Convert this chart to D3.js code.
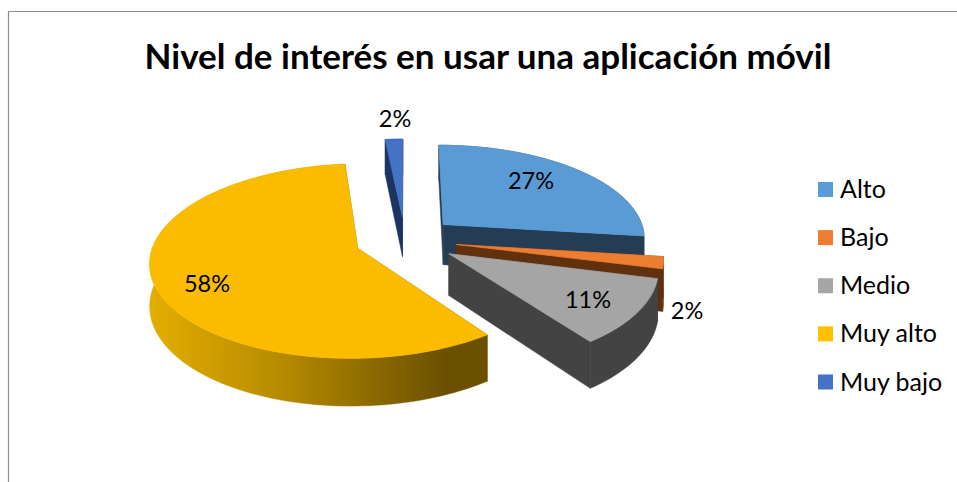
<!DOCTYPE html>
<html>
<head>
<meta charset="utf-8">
<script src="https://cdn.jsdelivr.net/npm/d3@7"></script>
<style>
  html, body { margin: 0; padding: 0; background: #fff; }
  svg { display: block; }
  text { font-family: Lato, "Open Sans", sans-serif; fill: #000; }
</style>
</head>
<body>
<div id="chart"></div>
<script>
const categories = ["Alto", "Bajo", "Medio", "Muy alto", "Muy bajo"];
// they round to the printed labels
const values = [27, 2, 11, 58.4, 1.6];
const labels = ["27%", "2%", "11%", "58%", "2%"];
const title = "Nivel de interés en usar una aplicación móvil";

const colors = ["#5B9BD5", "#ED7D31", "#A5A5A5", "#FBBC00", "#4472C4"];
const legendColors = ["#5B9BD5", "#ED7D31", "#A5A5A5", "#FFC000", "#4472C4"];
const sideColors = ["#243C54", "#60300F", "#434343", "url(#gold)", "#1C3461"];

let width = 957,
    height = 482;

// 3d look of the pie, fitted by eye
let cx = 405, cy = 240,
    R = 203,         // radius in the pie plane
    tilt = 0.46,
    persp = 0.13,
    depth = 41;
const explode = [52, 52, 52, 50, 52];

const svg = d3.select("#chart")
  .append("svg")
  .attr("width", width)
  .attr("height", height);

const defs = svg.append("defs");
const gold = defs.append("linearGradient")
  .attr("id", "gold")
  .attr("gradientUnits", "userSpaceOnUse")
  .attr("x1", 150).attr("x2", 485)
  .attr("y1", 0).attr("y2", 0);
gold.append("stop").attr("offset", "0%").attr("stop-color", "#E3AE00");
gold.append("stop").attr("offset", "40%").attr("stop-color", "#B58A00");
gold.append("stop").attr("offset", "88%").attr("stop-color", "#6B5000");
gold.append("stop").attr("offset", "100%").attr("stop-color", "#6B5000");

// chart frame, the screenshot cuts it on the right and bottom
svg.append("path")
  .attr("d", `M8.5,${height}V11.5H${width}`)
  .attr("fill", "none")
  .attr("stroke", "#8E8E8E")
  .attr("stroke-width", 1.2);

svg.append("text")
  .attr("x", 488)
  .attr("y", 69)
  .attr("text-anchor", "middle")
  .style("font-size", "35px")
  .style("font-weight", "bold")
  .text(title);

const slices = d3.pie().sort(null)(values);

// plane position (radius r, angle a) of a slice -> screen, z = height below the top face
function project(d, r, a, z) {
  let mid = (d.startAngle + d.endAngle) / 2;
  let e = explode[d.index];
  let px = r * Math.sin(a) + e * Math.sin(mid);
  let py = -r * Math.cos(a) - e * Math.cos(mid);
  let s = 1 / (1 - persp * py / R);
  return [cx + px * s, cy + py * tilt * s + z * s];
}

const line = d3.line();

function arcPoints(d, z) {
  let steps = Math.max(4, Math.ceil((d.endAngle - d.startAngle) * 40));
  return d3.range(steps + 1).map(i =>
    project(d, R, d.startAngle + (d.endAngle - d.startAngle) * i / steps, z));
}

function radialWall(d, a) {
  return line([project(d, 0, a, 0), project(d, R, a, 0), project(d, R, a, depth), project(d, 0, a, depth)]) + "Z";
}

// painter's order, back slice first
const order = [4, 0, 1, 2, 3];

for (let i of order) {
  let d = slices[i];
  let g = svg.append("g").attr("class", "slice");
  let flat = i == 3 ? "#6B5000" : sideColors[i];

  g.selectAll("path.radial")
    .data([d.startAngle, d.endAngle])
    .join("path")
    .attr("class", "radial")
    .attr("d", a => radialWall(d, a))
    .attr("fill", flat)
    .attr("stroke", flat)
    .attr("stroke-width", 0.5);

  g.append("path")
    .attr("d", line(arcPoints(d, 0).concat(arcPoints(d, depth).reverse())) + "Z")
    .attr("fill", sideColors[i])
    .attr("stroke", sideColors[i])
    .attr("stroke-width", 0.5);

  // top face gets its own stroke so the wall strokes don't show around it
  g.append("path")
    .attr("d", line([project(d, 0, 0, 0)].concat(arcPoints(d, 0))) + "Z")
    .attr("fill", colors[i])
    .attr("stroke", colors[i])
    .attr("stroke-width", 0.8);
}

// data labels
const labelX = [531, 687, 588, 207, 395];
const labelY = [189, 319, 308, 292, 127];

svg.append("g")
  .selectAll("text")
  .data(labels)
  .join("text")
  .attr("x", (d, i) => labelX[i])
  .attr("y", (d, i) => labelY[i])
  .attr("text-anchor", "middle")
  .style("font-size", "23.5px")
  .text(d => d);

// legend
let legendY = d3.scalePoint()
  .domain(categories)
  .range([189.5, 382]);

const legend = svg.append("g")
  .selectAll("g")
  .data(categories)
  .join("g")
  .attr("transform", d => `translate(818,${legendY(d)})`);

legend.append("rect")
  .attr("y", -7.5)
  .attr("width", 15)
  .attr("height", 15)
  .attr("fill", (d, i) => legendColors[i]);

legend.append("text")
  .attr("x", 22)
  .attr("y", 8.5)
  .style("font-size", "25px")
  .text(d => d);
</script>
</body>
</html>
